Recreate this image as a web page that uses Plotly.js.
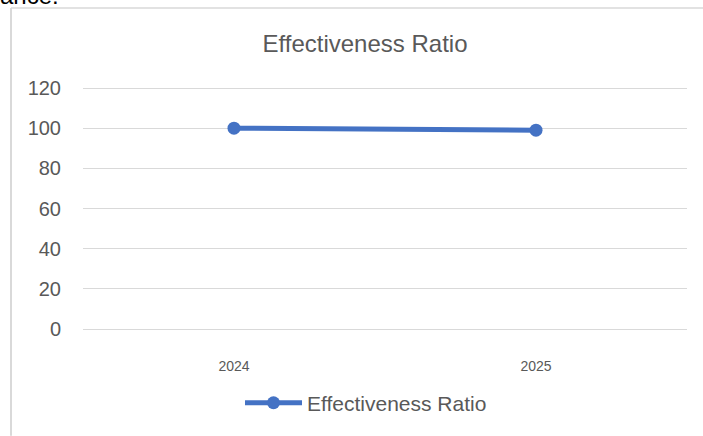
<!DOCTYPE html>
<html>
<head>
<meta charset="utf-8">
<script src="https://cdn.plot.ly/plotly-3.0.1.min.js"></script>
<style>html,body{margin:0;padding:0;background:#fff;}#chart{width:703px;height:436px;}</style>
</head>
<body>
<div id="chart"></div>
<script>
var categories = ['2024', '2025'];
var ratioValues = [100, 99];
var yTickValues = [0, 20, 40, 60, 80, 100, 120];
var seriesName = 'Effectiveness Ratio';
var chartTitle = 'Effectiveness Ratio';

var PH = 246; // plot height in px (bottom at 332)
function py(p) { return (332 - p) / PH; }
function px(p) { return (p - 83) / 604; }

var trace = {
  x: categories,
  y: ratioValues,
  type: 'scatter',
  mode: 'lines+markers',
  name: seriesName,
  line: {color: '#4472C4', width: 5},
  marker: {color: '#4472C4', size: 13},
  showlegend: true
};

var layout = {
  width: 703,
  height: 436,
  margin: {l: 83, r: 16, t: 86, b: 104},
  paper_bgcolor: '#ffffff',
  plot_bgcolor: '#ffffff',
  font: {family: 'Liberation Sans, Arial, sans-serif', color: '#595959'},
  title: {
    text: chartTitle,
    font: {size: 24, color: '#595959', family: 'Liberation Sans, Arial, sans-serif'},
    x: px(365), xanchor: 'center', xref: 'paper',
    y: 1 - 44/436, yanchor: 'middle', yref: 'container'
  },
  xaxis: {
    type: 'category',
    range: [-0.5, 1.5],
    showgrid: false,
    zeroline: false,
    showline: false,
    ticks: 'outside', ticklen: 24, tickcolor: 'rgba(0,0,0,0)',
    tickfont: {size: 14, color: '#595959'},
    fixedrange: true
  },
  yaxis: {
    range: [0, 121],
    tickvals: yTickValues,
    showgrid: true,
    gridcolor: '#d9d9d9',
    gridwidth: 1,
    zeroline: true,
    zerolinecolor: '#d9d9d9',
    zerolinewidth: 1,
    showline: false,
    ticks: 'outside', ticklen: 17, tickcolor: 'rgba(0,0,0,0)',
    tickfont: {size: 20, color: '#595959'},
    fixedrange: true
  },
  legend: {
    orientation: 'h',
    x: px(366), xanchor: 'center',
    y: py(407), yanchor: 'middle',
    font: {size: 21, color: '#595959'},
    itemwidth: 57
  },
  shapes: [
    {type: 'line', xref: 'paper', yref: 'paper',
     x0: px(11), x1: px(11), y0: py(7), y1: py(440),
     line: {color: '#d9d9d9', width: 2}},
    {type: 'line', xref: 'paper', yref: 'paper',
     x0: px(11), x1: px(710), y0: py(7), y1: py(7),
     line: {color: '#d9d9d9', width: 1.5}}
  ],
  annotations: [
    {text: 'ance:', xref: 'paper', yref: 'paper', showarrow: false,
     x: px(-2), xanchor: 'left',
     y: py(-6), yanchor: 'middle',
     font: {size: 24, color: '#000000', family: 'Liberation Sans, Arial, sans-serif'}}
  ]
};

Plotly.newPlot('chart', [trace], layout, {displayModeBar: false, staticPlot: true});
</script>
</body>
</html>
